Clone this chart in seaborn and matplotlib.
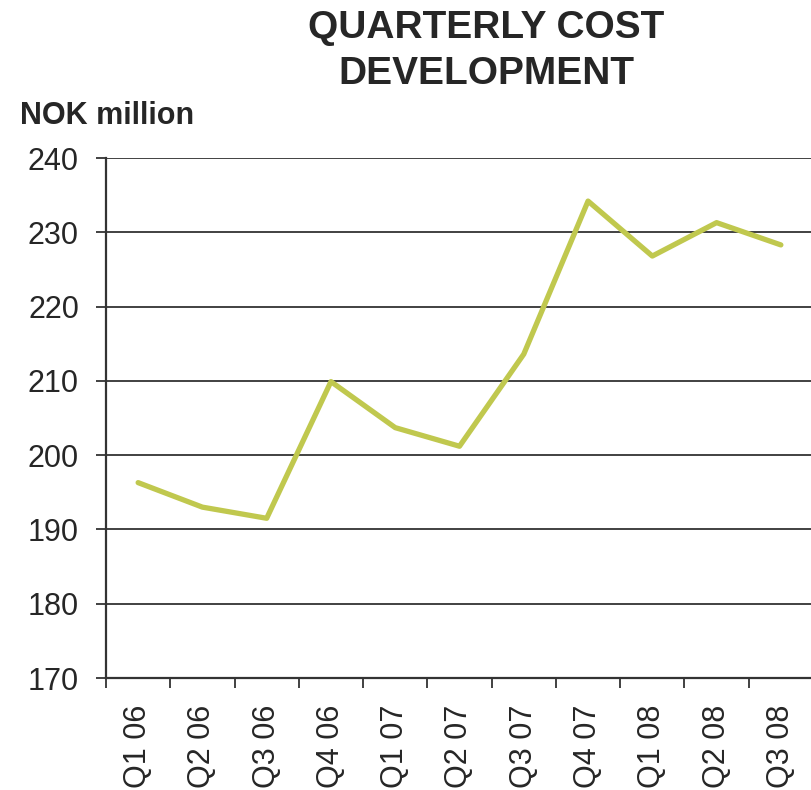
import matplotlib
matplotlib.use("Agg")
import matplotlib.pyplot as plt
import seaborn as sns
import pandas as pd

quarters = ["Q1 06", "Q2 06", "Q3 06", "Q4 06", "Q1 07", "Q2 07", "Q3 07",
            "Q4 07", "Q1 08", "Q2 08", "Q3 08"]
cost = [196.3, 193.0, 191.5, 209.9, 203.7, 201.2, 213.6, 234.2, 226.8, 231.3, 228.3]
yticks = [170, 180, 190, 200, 210, 220, 230, 240]

sns.set_theme(style="white")
plt.rcParams['font.family'] = ['Liberation Sans', 'DejaVu Sans']

df = pd.DataFrame({"q": quarters, "cost": cost, "i": range(len(quarters))})

fig = plt.figure(figsize=(8.11, 7.9), dpi=100)
ax = fig.add_axes([106/811, (790-678)/790, (813-106)/811, (678-158)/790])

for y in yticks:
    ax.axhline(y, color="#333333", lw=1.3, zorder=1)

sns.lineplot(data=df, x="i", y="cost", ax=ax, color="#C0C84E", lw=3.8,
             solid_capstyle="round", zorder=3)

ax.set_xlim(-0.5, len(quarters) - 0.5)
ax.set_ylim(170, 240)
ax.set_yticks(yticks)
ax.set_yticklabels([str(v) for v in yticks], fontsize=22, color="#262626")
ax.set_xticks(range(len(quarters)))
ax.set_xticklabels(quarters, rotation=90, fontsize=22, color="#262626")
ax.set_xticks([i - 0.5 for i in range(len(quarters) + 1)], minor=True)
ax.tick_params(axis="x", which="major", bottom=True, length=0, pad=19)
ax.tick_params(axis="x", which="minor", bottom=True, length=7.5, width=1.3,
               color="#333333", direction="out")
ax.tick_params(axis="y", left=True, length=7.5, width=1.3, color="#333333",
               direction="out", pad=12)
ax.set_xlabel("")
ax.set_ylabel("")

for s in ["top", "right"]:
    ax.spines[s].set_visible(False)
for s in ["left", "bottom"]:
    ax.spines[s].set_color("#333333")
    ax.spines[s].set_linewidth(1.6)

fig.text(486/811, 1 - 51/790, "QUARTERLY COST\nDEVELOPMENT", ha="center", va="center",
         fontsize=28, fontweight="bold", color="#262626", linespacing=1.35)
fig.text(20/811, 1 - 116/790, "NOK million", ha="left", va="center",
         fontsize=22, fontweight="bold", color="#262626")

fig.savefig("out.png", dpi=100)
